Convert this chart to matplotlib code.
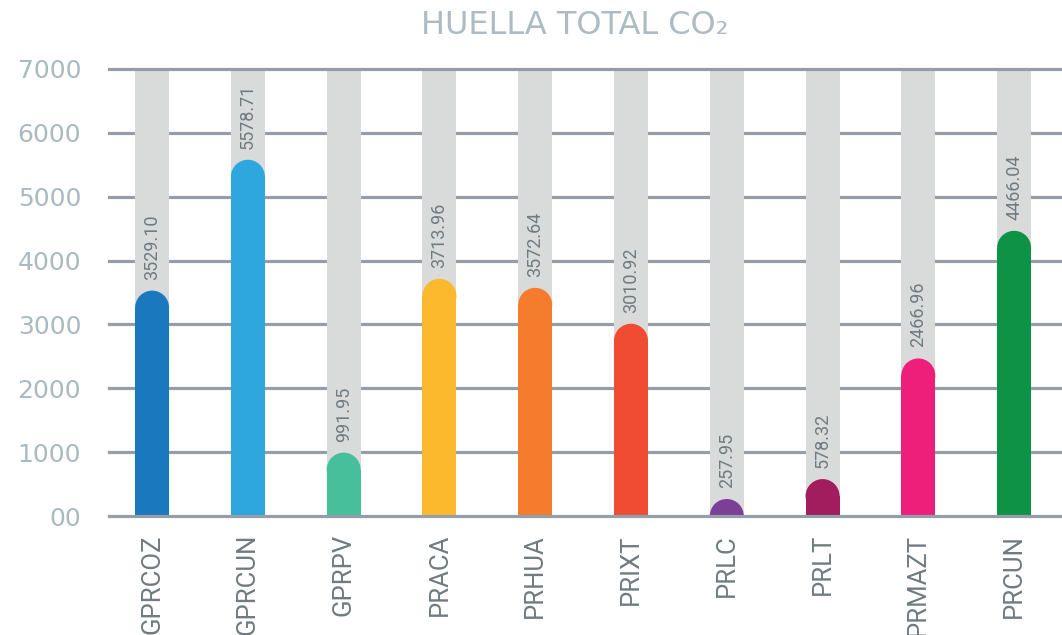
import matplotlib
matplotlib.use('Agg')

import numpy as np
import matplotlib.pyplot as plt
from matplotlib.patches import Ellipse

# datos
plantas = ["GPRCOZ", "GPRCUN", "GPRPV", "PRACA", "PRHUA",
           "PRIXT", "PRLC", "PRLT", "PRMAZT", "PRCUN"]
huella = [3529.10, 5578.71, 991.95, 3713.96, 3572.64,
          3010.92, 257.95, 578.32, 2466.96, 4466.04]
yticks = [0, 1000, 2000, 3000, 4000, 5000, 6000, 7000]
ytick_labels = ["00", "1000", "2000", "3000", "4000", "5000", "6000", "7000"]
colores = ["#1a78be", "#2ea6de", "#47bf9a", "#fdb92e", "#f47c2c",
           "#ef4c31", "#7c3f98", "#a11d5e", "#ee1f7a", "#0e9346"]

W, H = 1062, 635
fig = plt.figure(figsize=(W / 100, H / 100), dpi=100)
ax = fig.add_axes([109 / W, 119 / H, (W - 109) / W, 447 / H])

ymax = 7000
ax.set_xlim(-0.45, 9.5)
ax.set_ylim(0, ymax)

x = np.arange(len(plantas))
bar_w = 0.355
bar_px = bar_w * (W - 109) / (9.5 + 0.45)   # ancho en pixeles
r_data = (bar_px / 2) * ymax / 447           # radio de la tapa en datos

# barras grises de fondo
ax.bar(x, [ymax] * len(x), width=bar_w, color="#d9dada", zorder=2, linewidth=0)

# barras de color con tapa redondeada
centro = [max(v - r_data, 0) for v in huella]
ax.bar(x, centro, width=bar_w, color=colores, zorder=3, linewidth=0)
for xi, c, col in zip(x, centro, colores):
    ax.add_patch(Ellipse((xi, c), bar_w, 2 * r_data, facecolor=col,
                         edgecolor="none", zorder=3))

# etiquetas de valores
for xi, v in zip(x, huella):
    ax.annotate(f"{v:.2f}", (xi, v), xytext=(0, 8), textcoords="offset points",
                rotation=90, ha="center", va="bottom", fontsize=13,
                family="Roboto", color="#6f7b80", zorder=5)

# rejilla
for t in yticks:
    z = 4 if t in (0, ymax) else 0.5
    ax.axhline(t, color="#959ea8", linewidth=2.3, zorder=z, clip_on=False)

for s in ax.spines.values():
    s.set_visible(False)

ax.set_yticks(yticks)
ax.set_yticklabels(ytick_labels, fontsize=18, color="#a9bac2")
ax.set_xticks(x)
ax.set_xticklabels(plantas, rotation=90, fontsize=18.5, family="Roboto",
                   color="#6f7b80", va="top")
ax.tick_params(axis="both", length=0)
ax.tick_params(axis="y", pad=20)
ax.tick_params(axis="x", pad=13)

fig.text(575 / W, 1 - 25 / H, "HUELLA TOTAL CO\u2082", ha="center", va="center",
         fontsize=23, color="#adbcc3")

plt.savefig("out.png", dpi=100)
